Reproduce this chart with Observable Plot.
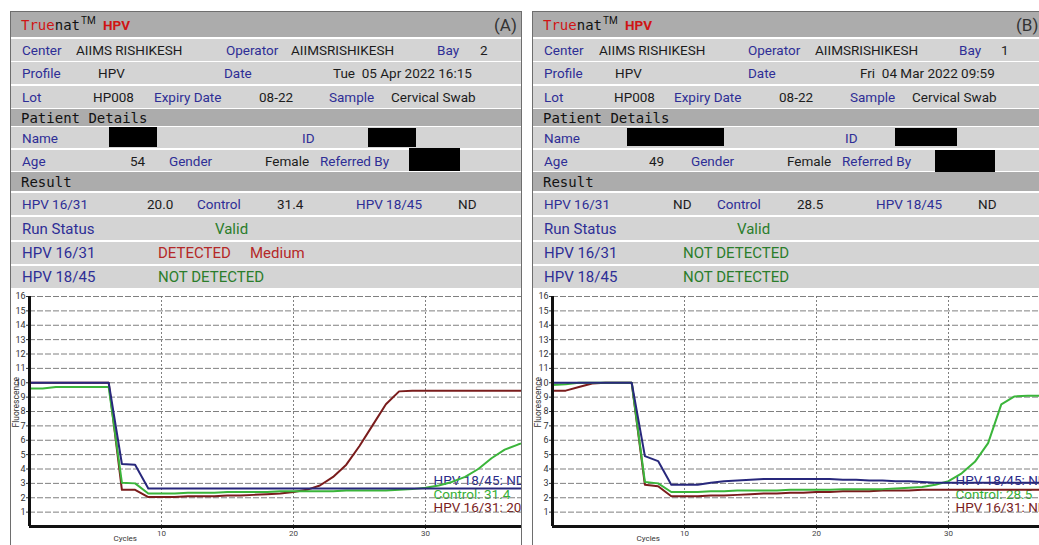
<!DOCTYPE html>
<html><head><meta charset="utf-8">
<script src="https://cdn.jsdelivr.net/npm/d3@7"></script>
<script src="https://cdn.jsdelivr.net/npm/@observablehq/plot@0.6"></script>
<style>
html,body{margin:0;padding:0;background:#fff;width:1039px;height:545px;overflow:hidden;font-family:Roboto,"Noto Sans",sans-serif;}
.panel{position:absolute;top:11px;width:512px;height:545px;border:1px solid #6e6e6e;box-sizing:border-box;overflow:hidden;background:#fff;}
.row{position:absolute;left:0;right:0;background:#d4d4d4;}
.row.dark{background:#acacac;}
.t{position:absolute;top:0;bottom:0;display:flex;align-items:center;white-space:pre;font-size:13.5px;color:#1c1c1c;}
.l{color:#2e2e96;}
.m{font-family:"DejaVu Sans Mono",monospace;font-size:14px;color:#111;}
.L{color:#2e2e96;font-size:15px;}
.G{color:#2b7d2b;font-size:15px;}
.R{color:#b42828;font-size:15px;}
.box{position:absolute;background:#000;}
.chart{position:absolute;left:0;top:278px;}
</style>
</head><body>
<script>
// ---------- data ----------
const cycles = [0,1,2,3,4,5,6,7,8,9,10,11,12,13,14,15,16,17,18,19,20,21,22,23,24,25,26,27,28,29,30,31,32,33,34,35,36,37,38];
const yTicks = [1,2,3,4,5,6,7,8,9,10,11,12,13,14,15,16];
const xTicks = [10,20,30];

// Panel A
const aHpv1631 = [10,10,10,10,10,10,10,2.55,2.55,2.05,2.05,2.05,2.1,2.1,2.1,2.15,2.15,2.2,2.25,2.3,2.4,2.55,2.85,3.45,4.3,5.6,7.05,8.5,9.4,9.45,9.45,9.45,9.45,9.45,9.45,9.45,9.45,9.45,9.45];
const aControl = [9.6,9.6,9.7,9.7,9.7,9.7,9.7,3.05,3.0,2.3,2.3,2.3,2.35,2.35,2.35,2.4,2.4,2.4,2.4,2.45,2.45,2.45,2.45,2.45,2.5,2.5,2.5,2.5,2.55,2.6,2.7,2.85,3.1,3.45,4.0,4.75,5.35,5.7,6.0];
const aHpv1845 = [10,10,10,10,10,10,10,4.35,4.3,2.65,2.65,2.65,2.65,2.65,2.65,2.65,2.65,2.65,2.65,2.65,2.65,2.65,2.65,2.65,2.65,2.65,2.65,2.65,2.65,2.65,2.65,2.65,2.65,2.65,2.65,2.65,2.65,2.65,2.65];
const aLabels = ["HPV 18/45: ND", "Control: 31.4", "HPV 16/31: 20.0"];

// Panel B
const bHpv1631 = [9.45,9.45,9.7,9.95,10,10,10,2.9,2.8,2.1,2.1,2.1,2.15,2.15,2.2,2.25,2.3,2.3,2.35,2.35,2.4,2.4,2.45,2.45,2.45,2.5,2.5,2.5,2.55,2.55,2.55,2.55,2.55,2.55,2.55,2.55,2.55,2.55,2.55];
const bControl = [9.85,9.9,10,10,10,10,10,3.1,3.0,2.4,2.4,2.4,2.45,2.45,2.5,2.5,2.5,2.5,2.55,2.55,2.55,2.55,2.6,2.6,2.6,2.6,2.65,2.7,2.75,2.9,3.15,3.7,4.5,5.8,8.5,9.05,9.1,9.1,9.1];
const bHpv1845 = [10,10,10,10,10,10,10,4.9,4.55,2.9,2.9,2.9,3.05,3.15,3.2,3.25,3.3,3.3,3.3,3.3,3.3,3.3,3.25,3.25,3.2,3.2,3.15,3.15,3.1,3.05,3.05,3.05,3.05,3.05,3.05,3.05,3.05,3.05,3.05];
const bLabels = ["HPV 18/45: ND", "Control: 28.5", "HPV 16/31: ND"];

// header texts: [row, x, text, class]
const headerA = [
  ["center",11,"Center","l"],["center",65,"AIIMS RISHIKESH","v"],["center",215,"Operator","l"],["center",280,"AIIMSRISHIKESH","v"],["center",426,"Bay","l"],["center",469,"2","v"],
  ["profile",11,"Profile","l"],["profile",87,"HPV","v"],["profile",213,"Date","l"],["profile",322,"Tue  05 Apr 2022 16:15","v"],
  ["lot",11,"Lot","l"],["lot",82,"HP008","v"],["lot",143,"Expiry Date","l"],["lot",248,"08-22","v"],["lot",318,"Sample","l"],["lot",380,"Cervical Swab","v"],
  ["patient",10,"Patient Details","m"],
  ["name",11,"Name","l"],["name",291,"ID","l"],
  ["age",11,"Age","l"],["age",119,"54","v"],["age",158,"Gender","l"],["age",254,"Female","v"],["age",309,"Referred By","l"],
  ["result",10,"Result","m"],
  ["values",11,"HPV 16/31","l"],["values",136,"20.0","v"],["values",186,"Control","l"],["values",266,"31.4","v"],["values",345,"HPV 18/45","l"],["values",447,"ND","v"],
  ["run",11,"Run Status","L"],["run",204,"Valid","G"],
  ["hpv1",11,"HPV 16/31","L"],["hpv1",147,"DETECTED","R"],["hpv1",239,"Medium","R"],
  ["hpv2",11,"HPV 18/45","L"],["hpv2",147,"NOT DETECTED","G"]
];
const headerB = [
  ["center",11,"Center","l"],["center",66,"AIIMS RISHIKESH","v"],["center",215,"Operator","l"],["center",282,"AIIMSRISHIKESH","v"],["center",426,"Bay","l"],["center",468,"1","v"],
  ["profile",11,"Profile","l"],["profile",82,"HPV","v"],["profile",215,"Date","l"],["profile",327,"Fri  04 Mar 2022 09:59","v"],
  ["lot",11,"Lot","l"],["lot",81,"HP008","v"],["lot",141,"Expiry Date","l"],["lot",246,"08-22","v"],["lot",317,"Sample","l"],["lot",379,"Cervical Swab","v"],
  ["patient",10,"Patient Details","m"],
  ["name",11,"Name","l"],["name",312,"ID","l"],
  ["age",11,"Age","l"],["age",116,"49","v"],["age",158,"Gender","l"],["age",254,"Female","v"],["age",309,"Referred By","l"],
  ["result",10,"Result","m"],
  ["values",11,"HPV 16/31","l"],["values",140,"ND","v"],["values",184,"Control","l"],["values",264,"28.5","v"],["values",343,"HPV 18/45","l"],["values",445,"ND","v"],
  ["run",11,"Run Status","L"],["run",204,"Valid","G"],
  ["hpv1",11,"HPV 16/31","L"],["hpv1",150,"NOT DETECTED","G"],
  ["hpv2",11,"HPV 18/45","L"],["hpv2",150,"NOT DETECTED","G"]
];
const panelTags = ["(A)", "(B)"];

// ---------- layout ----------
const rowsLayout = [
  ["title",0,25,true],["center",27,22,false],["profile",50,22,false],["lot",74,22,false],["patient",97,17,true],
  ["name",115,21,false],["age",138,21,false],["result",160,19,true],["values",181,22,false],
  ["run",205,23,false],["hpv1",230,22,false],["hpv2",254,22,false]
];
const boxesA = [["name",98,146,0,20],["name",357,405,1,19],["age",398,449,-2,23]];
const boxesB = [["name",94,191,1,18],["name",362,424,1,18],["age",402,462,0,22]];

const colors = {hpv1845:"#28287c", control:"#3bb53b", hpv1631:"#7a1c1c"};
const labelColors = ["#2a2a88", "#35b035", "#7a1c1c"];

function buildPanel(left, header, boxes, tag, series, labels, marginLeft) {
  const p = document.createElement("div");
  p.className = "panel";
  p.style.left = left + "px";
  document.body.appendChild(p);
  const rowEls = {};
  for (const [key, top, h, dark] of rowsLayout) {
    const r = document.createElement("div");
    r.className = "row" + (dark ? " dark" : "");
    r.style.top = top + "px"; r.style.height = h + "px";
    p.appendChild(r);
    rowEls[key] = r;
  }
  const add = (row, x, txt, cls, extra) => {
    const s = document.createElement("div");
    s.className = "t " + (cls || "");
    s.style.left = x + "px";
    s.textContent = txt;
    if (extra) Object.assign(s.style, extra);
    rowEls[row].appendChild(s);
    return s;
  };
  // title
  const tr = document.createElement("div");
  tr.className = "t m";
  tr.style.left = "10px";
  tr.innerHTML = '<span style="color:#d01414">True</span><span style="color:#111">nat</span>';
  rowEls.title.appendChild(tr);
  add("title", 70, "TM", "", {fontSize: "10px", color: "#111", alignItems: "flex-start", paddingTop: "3px"});
  add("title", 92, "HPV", "", {color: "#d01414", fontWeight: "bold", fontSize: "13.5px"});
  add("title", 483, tag, "", {fontSize: "17px", color: "#333"});
  for (const [row, x, txt, cls] of header) add(row, x, txt, cls);
  for (const [row, x1, x2, dy, h] of boxes) {
    const b = document.createElement("div");
    b.className = "box";
    b.style.left = x1 + "px"; b.style.width = (x2 - x1) + "px";
    b.style.top = dy + "px"; b.style.height = h + "px";
    rowEls[row].appendChild(b);
  }
  // chart
  const W = 510, H = 255, pxPerCycle = 13.2;
  const xMax = (W - marginLeft) / pxPerCycle;
  const tbl = vals => cycles.map((c, i) => ({c, v: vals[i]}));
  const labelDy = [-42, -28, -15];
  const svg = Plot.plot({
    width: W, height: H,
    marginLeft, marginRight: 0, marginTop: 6, marginBottom: 19,
    x: {domain: [0, xMax], axis: null},
    y: {domain: [0, 16], axis: null},
    style: {background: "white", fontFamily: "Roboto, sans-serif", fontSize: "9px", color: "#333"},
    marks: [
      ...labels.map((t, i) => Plot.text([t], {text: d => d, frameAnchor: "bottom-left", dx: 422 - marginLeft, dy: labelDy[i], textAnchor: "start", fill: labelColors[i], fontSize: 13.5})),
      Plot.gridY(yTicks, {stroke: "#6a6a6a", strokeOpacity: 0.85, strokeDasharray: "6,2"}),
      Plot.gridX(xTicks, {stroke: "#6a6a6a", strokeOpacity: 0.85, strokeDasharray: "2,2"}),
      Plot.axisY(yTicks, {tickSize: 3, tickPadding: 1, fontSize: 9, label: null, color: "#333"}),
      Plot.axisX(xTicks, {tickSize: 3, tickPadding: 1, fontSize: 8, label: null, color: "#444"}),
      Plot.text(["Cycles"], {text: d => d, frameAnchor: "bottom-left", dx: 84, dy: 14, fontSize: 8, fill: "#333"}),
      Plot.text(["Fluorescence"], {text: d => d, frameAnchor: "left", dx: 5 - marginLeft, dy: 16, rotate: -90, fontSize: 8.5, fill: "#333"}),
      Plot.line(tbl(series[0]), {x: "c", y: "v", stroke: colors.hpv1631, strokeWidth: 2, clip: true}),
      Plot.line(tbl(series[1]), {x: "c", y: "v", stroke: colors.control, strokeWidth: 2, clip: true}),
      Plot.line(tbl(series[2]), {x: "c", y: "v", stroke: colors.hpv1845, strokeWidth: 2, clip: true}),
      Plot.ruleX([0], {stroke: "#111", strokeWidth: 3}),
      Plot.ruleY([0], {stroke: "#111", strokeWidth: 3})
    ]
  });
  const holder = document.createElement("div");
  holder.className = "chart";
  holder.appendChild(svg);
  p.appendChild(holder);
}

buildPanel(10, headerA, boxesA, panelTags[0], [aHpv1631, aControl, aHpv1845], aLabels, 18);
buildPanel(532, headerB, boxesB, panelTags[1], [bHpv1631, bControl, bHpv1845], bLabels, 19);
</script>
</body></html>
